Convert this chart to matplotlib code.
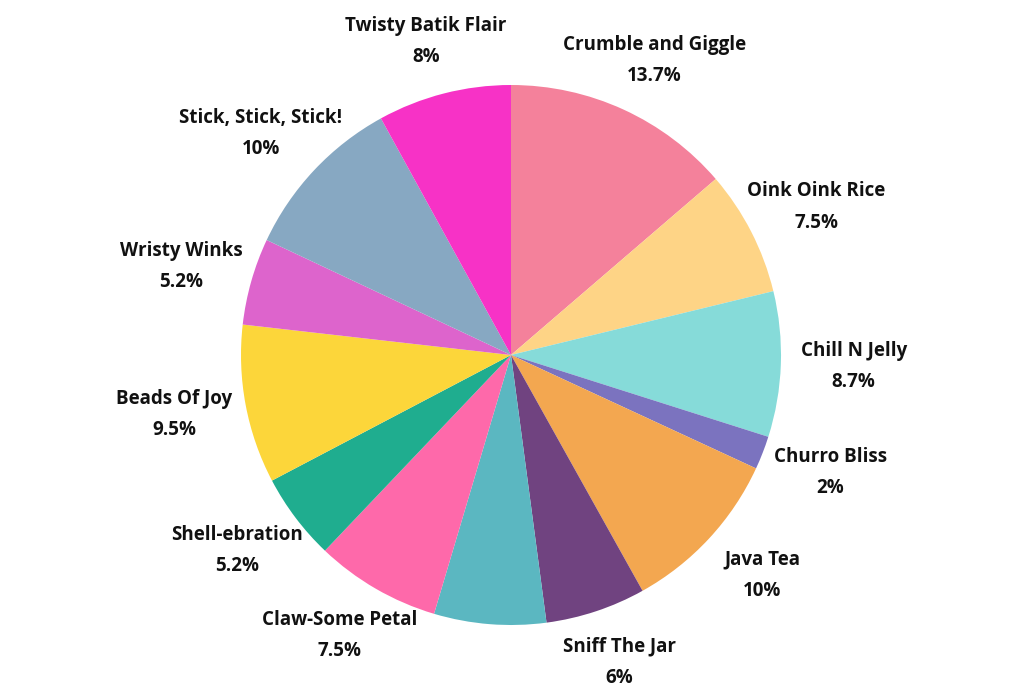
import numpy as np
import matplotlib
matplotlib.use("Agg")
import matplotlib.pyplot as plt

# slices, clockwise from 12 o'clock
names = ["Crumble and Giggle", "Oink Oink Rice", "Chill N Jelly", "Churro Bliss",
         "Java Tea", "Sniff The Jar", "", "Claw-Some Petal", "Shell-ebration",
         "Beads Of Joy", "Wristy Winks", "Stick, Stick, Stick!", "Twisty Batik Flair"]
shares = [13.7, 7.5, 8.7, 2, 10, 6, 6.7, 7.5, 5.2, 9.5, 5.2, 10, 8]
colors = ["#f4819b", "#fed486", "#86dbd9", "#7b73bf", "#f3a750", "#704380",
          "#5bb7c1", "#fe69aa", "#1fad8f", "#fcd63a", "#dd64cc", "#87a8c2", "#f732c6"]

W, H = 1031, 696
R = 270.0
cx, cy = 511, 355

fig = plt.figure(figsize=(W / 100, H / 100), dpi=100)
ax = fig.add_axes([0, 0, 1, 1])
ax.axis("off")

wedges, _ = ax.pie(shares, colors=colors, startangle=90, counterclock=False,
                   radius=1.0, wedgeprops=dict(linewidth=0))
ax.set_xlim(-cx / R, (W - cx) / R)
ax.set_ylim(-(H - cy) / R, cy / R)

for w, name, v in zip(wedges, names, shares):
    if not name:
        continue
    mid = np.deg2rad((w.theta1 + w.theta2) / 2)
    # labels sit a little wider than tall around the pie
    x = 1.27 * np.cos(mid)
    y = 1.20 * np.sin(mid)
    ax.text(x, y, f"{name}\n{v:g}%",
            ha="center", va="center", multialignment="center",
            fontsize=13.5, fontweight="bold", family="Open Sans", linespacing=1.75,
            color="#111111")

fig.savefig("out.png", dpi=100, facecolor="white")
